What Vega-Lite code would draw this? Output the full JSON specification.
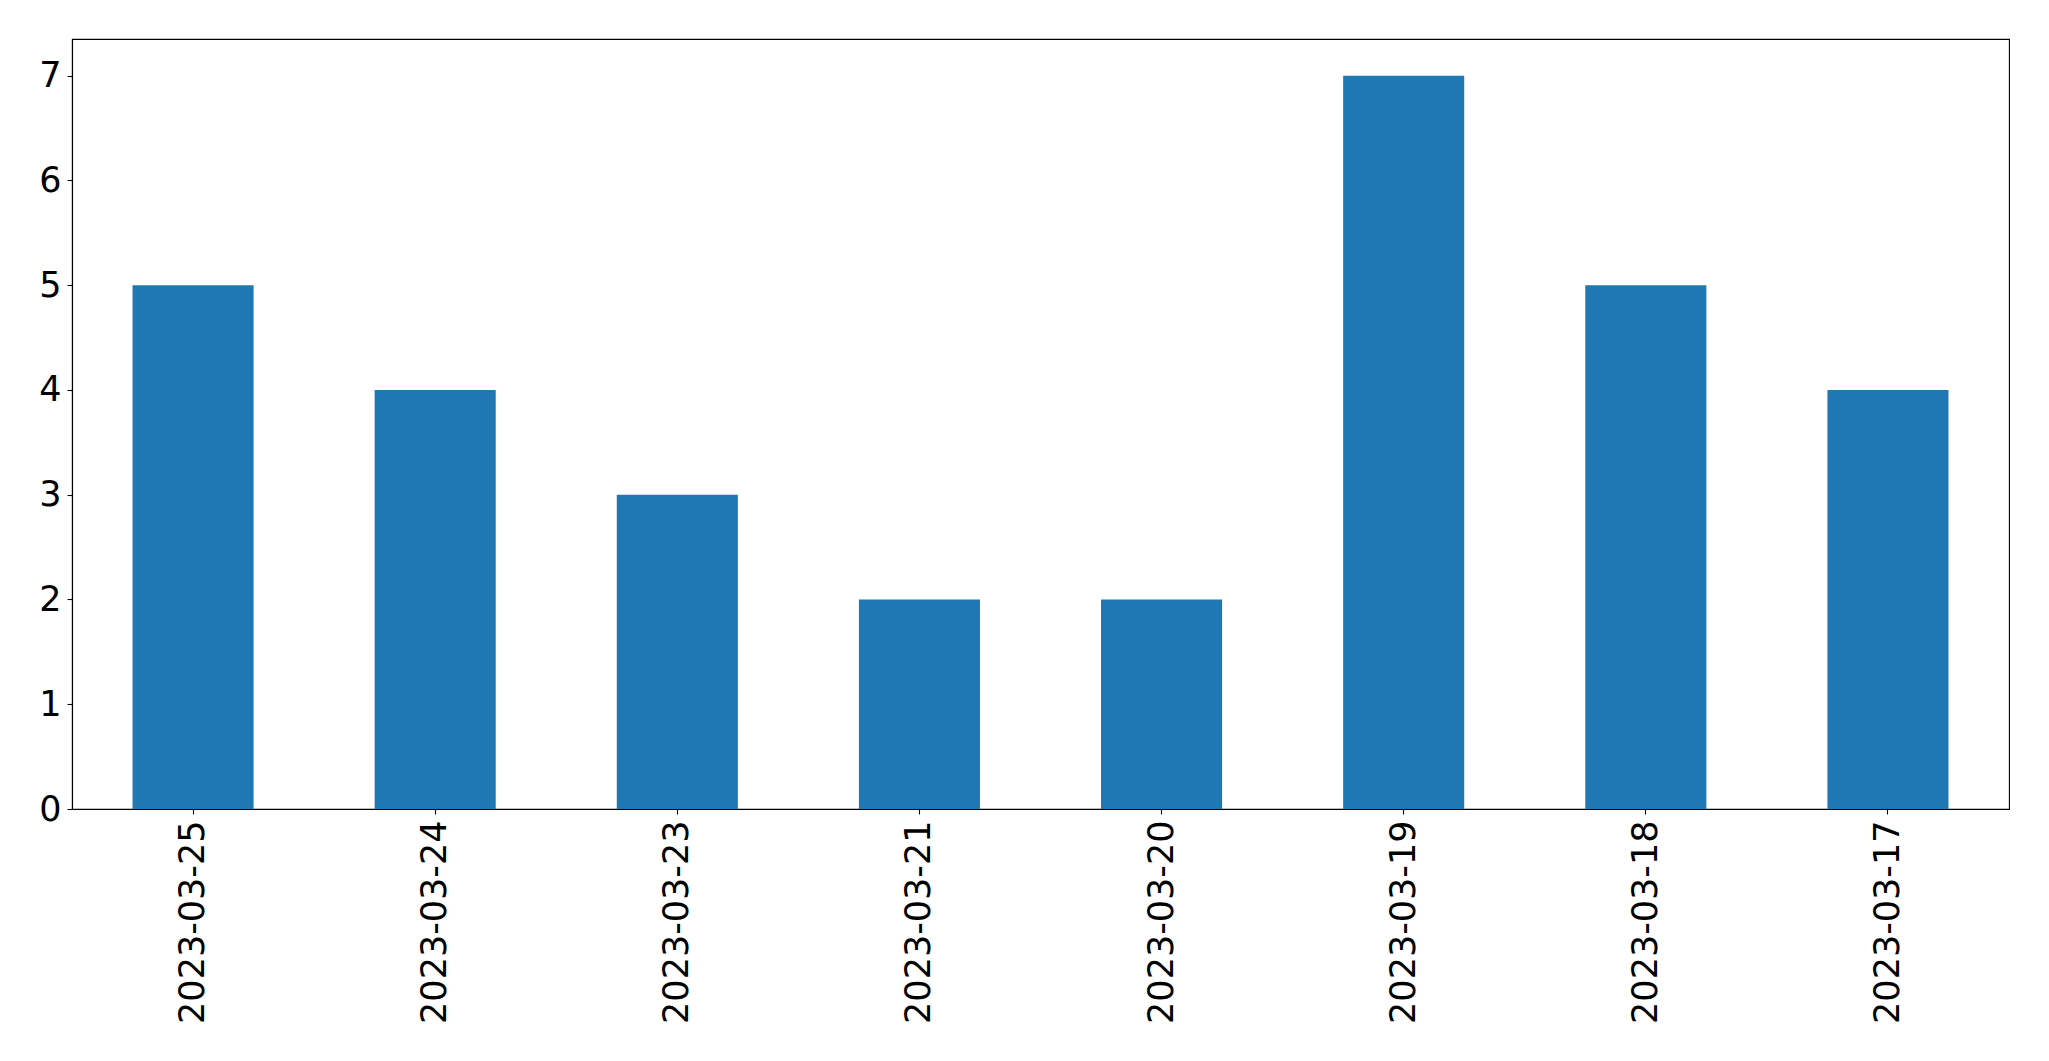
{
  "$schema": "https://vega.github.io/schema/vega-lite/v6.json",
  "width": 1937,
  "height": 770,
  "autosize": {"type": "none"},
  "padding": {"left": 72, "top": 39, "right": 40, "bottom": 252},
  "background": "white",
  "config": {
    "view": {"stroke": "black", "strokeWidth": 1.1},
    "axis": {
      "labelFont": "DejaVu Sans",
      "labelFontSize": 35,
      "labelColor": "black",
      "labelLimit": 0,
      "tickColor": "black",
      "tickWidth": 1.1,
      "tickSize": 5,
      "domainColor": "black",
      "domainWidth": 1.1,
      "grid": false,
      "title": null
    }
  },
  "data": {
    "values": [
      {"date": "2023-03-25", "count": 5},
      {"date": "2023-03-24", "count": 4},
      {"date": "2023-03-23", "count": 3},
      {"date": "2023-03-21", "count": 2},
      {"date": "2023-03-20", "count": 2},
      {"date": "2023-03-19", "count": 7},
      {"date": "2023-03-18", "count": 5},
      {"date": "2023-03-17", "count": 4}
    ]
  },
  "mark": {"type": "bar", "color": "#1f77b4"},
  "encoding": {
    "x": {
      "field": "date",
      "type": "nominal",
      "sort": null,
      "scale": {"paddingInner": 0.5, "paddingOuter": 0.25},
      "axis": {"labelAngle": -90, "labelPadding": 6, "labelAlign": "right", "labelBaseline": "middle"}
    },
    "y": {
      "field": "count",
      "type": "quantitative",
      "scale": {"domain": [0, 7.35], "nice": false},
      "axis": {"values": [0, 1, 2, 3, 4, 5, 6, 7], "labelPadding": 6}
    }
  }
}
